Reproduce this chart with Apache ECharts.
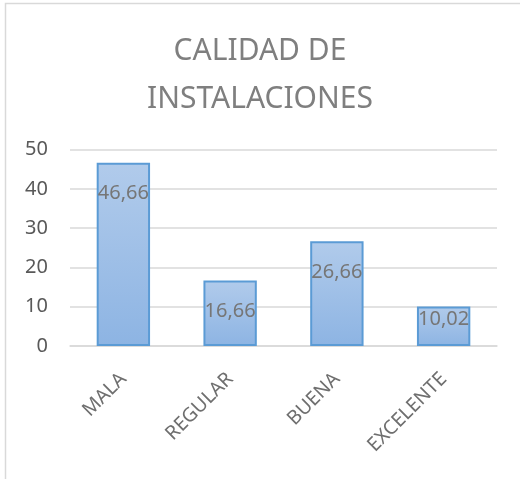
<!DOCTYPE html>
<html>
<head>
<meta charset="utf-8">
<script src="https://cdn.jsdelivr.net/npm/echarts@6/dist/echarts.min.js"></script>
<style>
  html, body { margin: 0; padding: 0; background: #fff; }
  #main { width: 520px; height: 479px; }
</style>
</head>
<body>
<div id="main"></div>
<script>
// datos del grafico
var categorias = ['MALA', 'REGULAR', 'BUENA', 'EXCELENTE'];
var valores = [46.66, 16.66, 26.66, 10.02];
var titulo = 'CALIDAD DE\nINSTALACIONES';

var myChart = echarts.init(document.getElementById('main'));

// la etiqueta sube si la barra es muy baja (como en Excel)
var datos = valores.map(function (v) {
    return { value: v, label: { distance: v < 12 ? 3 : 21 } };
});

var option = {
    backgroundColor: '#fff',
    animation: false,
    textStyle: { fontFamily: 'Noto Sans' },
    title: {
        text: titulo,
        left: 'center',
        top: 22,
        textStyle: {
            color: '#7f7f7f',
            fontSize: 30,
            fontWeight: 'normal',
            lineHeight: 48
        }
    },
    graphic: [{
        type: 'rect',
        shape: { x: 5.5, y: 3.5, width: 600, height: 600 },
        style: { fill: 'none', stroke: '#d9d9d9', lineWidth: 1.5 },
        silent: true
    }],
    grid: {
        left: 70,
        right: 23,
        top: 149.5,
        bottom: 133
    },
    xAxis: {
        type: 'category',
        data: categorias,
        axisLine: { lineStyle: { color: '#d9d9d9', width: 1.5 } },
        axisTick: { show: false },
        axisLabel: {
            rotate: 45,
            color: '#6f6f6f',
            fontSize: 19.5,
            margin: 30
        }
    },
    yAxis: {
        type: 'value',
        min: 0,
        max: 50,
        interval: 10,
        axisLine: { show: false },
        axisTick: { show: false },
        splitLine: { lineStyle: { color: '#d9d9d9', width: 1.5 } },
        axisLabel: {
            color: '#595959',
            fontSize: 20,
            margin: 22
        }
    },
    series: [{
        type: 'bar',
        data: datos,
        barWidth: '50%',
        itemStyle: {
            color: new echarts.graphic.LinearGradient(0, 0, 0, 1, [
                { offset: 0, color: '#b1cbeb' },
                { offset: 1, color: '#8db4e3' }
            ]),
            borderColor: '#5b9bd5',
            borderWidth: 2
        },
        label: {
            show: true,
            position: 'insideTop',
            distance: 21,
            color: '#767676',
            fontSize: 20,
            formatter: function (p) {
                return p.value.toFixed(2).replace('.', ',');
            }
        }
    }]
};
myChart.setOption(option);
</script>
</body>
</html>
